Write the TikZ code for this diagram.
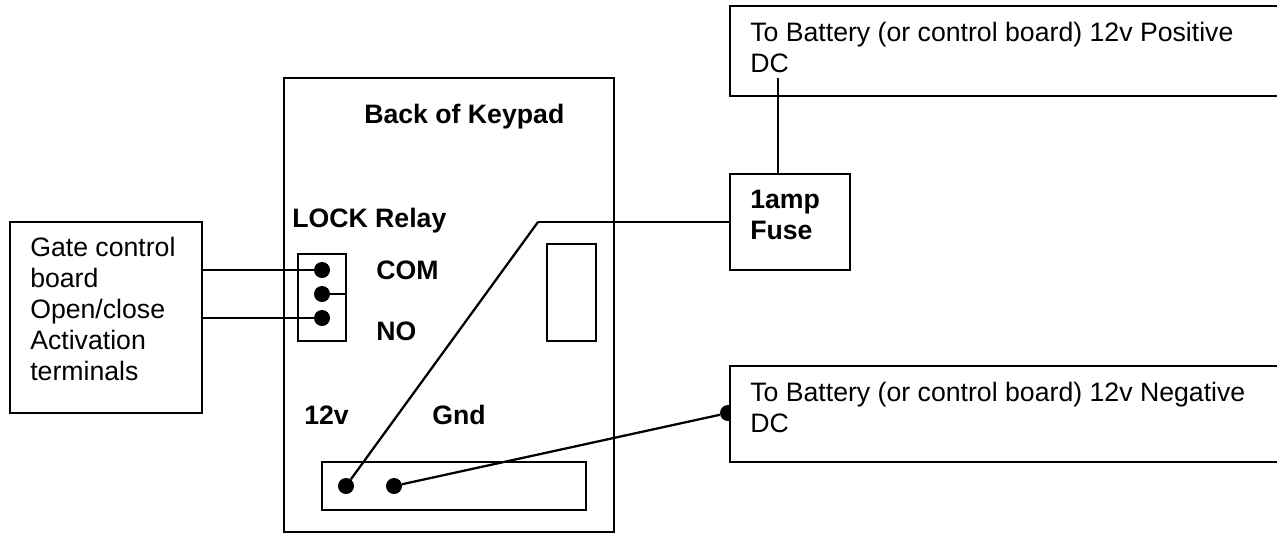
\documentclass[tikz,border=0pt]{standalone}
\usepackage{fontspec}
\setmainfont{Liberation Sans}

\begin{document}
\begin{tikzpicture}
[x=0.75pt,y=-0.75pt,%
  boxDecorate/.style={shape=rectangle,draw,fill=white,line width=1.4pt,inner sep=0pt},%
  dotDecorate/.style={shape=circle,fill=black,minimum size=12pt,inner sep=0pt},%
  lineDecorate/.style={-,line width=1.7pt},%
  thinDecorate/.style={-,line width=1.2pt},%
  textDecorate/.style={inner sep=0pt,align=left,anchor=base west,font=\fontsize{20}{23.25}\selectfont},%
  boldDecorate/.style={textDecorate,font=\fontsize{20}{23.25}\selectfont\bfseries}]
\useasboundingbox (0,0) rectangle (1277,533);
%% outer boxes
\node (keypad) at (449,305) [boxDecorate,minimum width=247.5pt,minimum height=340.5pt] {};
\node (gate) at (106,317.5) [boxDecorate,minimum width=144pt,minimum height=143.25pt] {};
\node (fuse) at (790,222) [boxDecorate,minimum width=90pt,minimum height=72pt] {};
\node (battPos) at (1015,51) [boxDecorate,minimum width=427.5pt,minimum height=67.5pt] {};
%% boxes on the keypad
\node (relay) at (322,297.5) [boxDecorate,minimum width=36pt,minimum height=65.25pt] {};
\node (slot) at (571.5,292.5) [boxDecorate,minimum width=36.75pt,minimum height=72.75pt] {};
\node (strip) at (454,486) [boxDecorate,minimum width=198pt,minimum height=36pt] {};
%% terminals
\node (com) at (322,270) [dotDecorate] {};
\node (mid) at (322,294) [dotDecorate] {};
\node (no) at (322,318) [dotDecorate] {};
\node (pwr) at (346,486) [dotDecorate] {};
\node (gnd) at (394,486) [dotDecorate] {};
\node (battDot) at (728,413) [dotDecorate] {};
%% free wire ends
\coordinate (bend) at (538,222);
\coordinate (posEnd) at (778,78);
%% edges or lines
\path
(gate.east |- com) edge[lineDecorate] (com)
(gate.east |- no) edge[lineDecorate] (no)
(mid) edge[thinDecorate] (relay.east |- mid)
(fuse.north -| posEnd) edge[lineDecorate] (posEnd)
(gnd) edge[lineDecorate] (battDot)
(pwr) edge[lineDecorate] (bend)
(bend) edge[thinDecorate] (fuse.west);
%% this box hides half of its dot
\node (battNeg) at (1015,414) [boxDecorate,minimum width=427.5pt,minimum height=72pt] {};
%% texts
\node (gateText) at (30,380) [textDecorate] {Gate control\\board\\Open/close\\Activation\\terminals};
\node (posText) at (750,72) [textDecorate] {To Battery (or control board) 12v Positive\\DC};
\node (negText) at (750,432) [textDecorate] {To Battery (or control board) 12v Negative\\DC};
\node (fuseText) at (750,239) [boldDecorate] {1amp\\Fuse};
\node (title) at (364,123) [boldDecorate] {Back of Keypad};
\node (lockText) at (292,227) [boldDecorate] {LOCK Relay};
\node (comText) at (376,279) [boldDecorate] {COM};
\node (noText) at (376,340) [boldDecorate] {NO};
\node (pwrText) at (304,424) [boldDecorate] {12v};
\node (gndText) at (432,424) [boldDecorate] {Gnd};
\end{tikzpicture}
\end{document}
